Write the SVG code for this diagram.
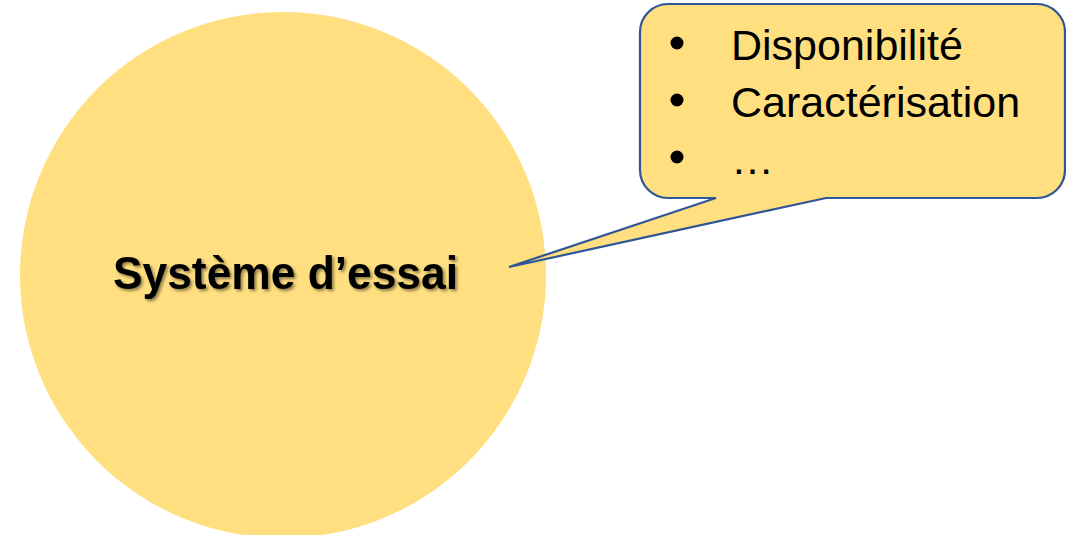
<svg xmlns="http://www.w3.org/2000/svg" width="1066" height="535" viewBox="0 0 1066 535">
  <defs>
    <filter id="shadow" x="-10%" y="-30%" width="120%" height="160%">
      <feDropShadow dx="2" dy="2" stdDeviation="1.5" flood-color="#000" flood-opacity="0.45"/>
    </filter>
    <style>
      .fill { fill: #FFDF80; }
      .callout { fill: #FFDF80; stroke: #2F5597; stroke-width: 2.2; stroke-linejoin: miter; }
      .item { font-family: "Liberation Sans", Arial, sans-serif; font-size: 43px; fill: #000; }
      .title { font-family: "Liberation Sans", Arial, sans-serif; font-size: 46px; font-weight: bold; fill: #000; }
      .bullet { fill: #000; }
    </style>
  </defs>
  <rect width="1066" height="535" fill="#FFFFFF"/>
  <g id="node-systeme">
    <circle class="fill" cx="283" cy="275" r="263"/>
    <text class="title" x="113" y="289" textLength="345" lengthAdjust="spacingAndGlyphs" filter="url(#shadow)">Système d’essai</text>
  </g>
  <g id="node-callout">
    <path class="callout" d="M668,4 H1037 A28,28 0 0 1 1065,32 V170 A28,28 0 0 1 1037,198 H826 L509,267 L716,198 H668 A28,28 0 0 1 640,170 V32 A28,28 0 0 1 668,4 Z"/>
    <circle class="bullet" cx="677" cy="43" r="6.5"/>
    <circle class="bullet" cx="677" cy="100" r="6.5"/>
    <circle class="bullet" cx="677" cy="157" r="6.5"/>
    <text class="item" x="731" y="60">Disponibilité</text>
    <text class="item" x="731" y="117">Caractérisation</text>
    <text class="item" x="731" y="174">…</text>
  </g>
  <g id="connectors"/>
</svg>
